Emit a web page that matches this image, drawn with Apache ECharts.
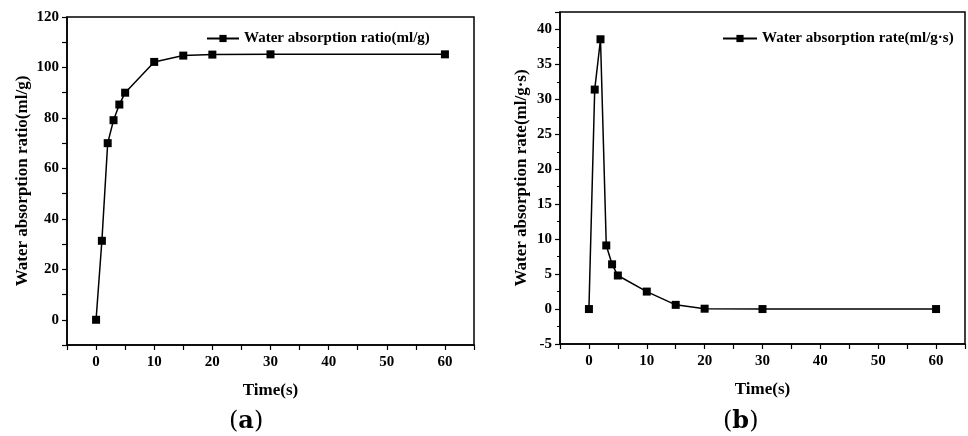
<!DOCTYPE html>
<html>
<head>
<meta charset="utf-8">
<script src="https://cdn.jsdelivr.net/npm/echarts@6/dist/echarts.min.js"></script>
<style>
html,body{margin:0;padding:0;background:#fff;}
#c{width:968px;height:436px;}
</style>
</head>
<body>
<div id="c"></div>
<script>
var timeA = [0, 1, 2, 3, 4, 5, 10, 15, 20, 30, 60];
var ratioA = [0, 31.3, 70.0, 79.1, 85.3, 90.0, 102.2, 104.7, 105.1, 105.2, 105.2];
var timeB = [0, 1, 2, 3, 4, 5, 10, 15, 20, 30, 60];
var rateB = [0, 31.4, 38.6, 9.1, 6.4, 4.8, 2.5, 0.6, 0.05, 0, 0];
var nameA = 'Water absorption ratio(ml/g)';
var nameB = 'Water absorption rate(ml/g\u00b7s)';
var xName = 'Time(s)';

var FONT = '"Liberation Serif", "Times New Roman", serif';
var chart = echarts.init(document.getElementById('c'), null, {renderer: 'canvas'});

function pairs(xs, ys) { return xs.map(function (x, i) { return [x, ys[i]]; }); }

var axisLineStyle = {show: true, onZero: false, lineStyle: {color: '#000', width: 1.5}};
var labelStyle = {color: '#000', fontFamily: FONT, fontWeight: 'bold', fontSize: 15};

function xAxis(gi) {
  return {
    type: 'value', gridIndex: gi, min: -5, max: 65, interval: 5,
    name: xName, nameLocation: 'middle', nameGap: 37,
    nameTextStyle: {color: '#000', fontFamily: FONT, fontWeight: 'bold', fontSize: 17},
    axisLine: axisLineStyle,
    axisTick: {show: true, inside: false, length: 5, lineStyle: {color: '#000', width: 1.2}},
    axisLabel: Object.assign({margin: 10, formatter: function (v) {
      return (v % 10 === 0 && v >= 0 && v <= 60) ? String(v) : '';
    }}, labelStyle),
    splitLine: {show: false}
  };
}

var option = {
  backgroundColor: '#fff',
  animation: false,
  grid: [
    {left: 67, top: 17, right: 494, bottom: 91, show: true, borderColor: '#000', borderWidth: 1.5, containLabel: false},
    {left: 560, top: 12, right: -4, bottom: 92, show: true, borderColor: '#000', borderWidth: 1.5, containLabel: false}
  ],
  legend: [
    {data: [nameA], left: 201, top: 26, itemWidth: 32, itemHeight: 9, itemGap: 6,
      textStyle: {color: '#000', fontFamily: FONT, fontWeight: 'bold', fontSize: 15}},
    {data: [nameB], left: 717, top: 26, itemWidth: 34, itemHeight: 9, itemGap: 6,
      textStyle: {color: '#000', fontFamily: FONT, fontWeight: 'bold', fontSize: 15}}
  ],
  xAxis: [xAxis(0), xAxis(1)],
  yAxis: [
    {
      type: 'value', gridIndex: 0, min: -10, max: 120, interval: 10,
      name: nameA, nameLocation: 'middle', nameGap: 36, nameRotate: 90,
      nameTextStyle: {color: '#000', fontFamily: FONT, fontWeight: 'bold', fontSize: 17},
      axisLine: axisLineStyle,
      axisTick: {show: true, length: 5, lineStyle: {color: '#000', width: 1.2}},
      axisLabel: Object.assign({margin: 8, formatter: function (v) {
        return (v % 20 === 0 && v >= 0) ? String(v) : '';
      }}, labelStyle),
      splitLine: {show: false}
    },
    {
      type: 'value', gridIndex: 1, min: -5, max: 42.5, interval: 5,
      name: nameB, nameLocation: 'middle', nameGap: 30, nameRotate: 90,
      nameTextStyle: {color: '#000', fontFamily: FONT, fontWeight: 'bold', fontSize: 17},
      axisLine: axisLineStyle,
      axisTick: {show: true, length: 5, lineStyle: {color: '#000', width: 1.2}},
      minorTick: {show: true, splitNumber: 2, length: 3, lineStyle: {color: '#000', width: 1}},
      axisLabel: Object.assign({margin: 8, showMaxLabel: false, formatter: function (v) {
        return (v % 5 === 0) ? String(v) : '';
      }}, labelStyle),
      splitLine: {show: false}
    }
  ],
  series: [
    {
      name: nameA, type: 'line', xAxisIndex: 0, yAxisIndex: 0,
      data: pairs(timeA, ratioA),
      symbol: 'rect', symbolSize: 8, showAllSymbol: true,
      lineStyle: {color: '#000', width: 1.5}, itemStyle: {color: '#000'}
    },
    {
      name: nameB, type: 'line', xAxisIndex: 1, yAxisIndex: 1,
      data: pairs(timeB, rateB),
      symbol: 'rect', symbolSize: 8, showAllSymbol: true,
      lineStyle: {color: '#000', width: 1.5}, itemStyle: {color: '#000'}
    }
  ],
  graphic: [
    {type: 'text', left: 229, top: 410, style: {
      text: '{p|(}{b|a}{p|)}',
      rich: {
        p: {fontFamily: '"DejaVu Serif", serif', fontSize: 24, fill: '#000'},
        b: {fontFamily: '"DejaVu Serif", serif', fontSize: 24, fontWeight: 'bold', fill: '#000'}
      }
    }},
    {type: 'text', left: 723, top: 410, style: {
      text: '{p|(}{b|b}{p|)}',
      rich: {
        p: {fontFamily: '"DejaVu Serif", serif', fontSize: 24, fill: '#000'},
        b: {fontFamily: '"DejaVu Serif", serif', fontSize: 24, fontWeight: 'bold', fill: '#000'}
      }
    }}
  ]
};
chart.setOption(option);
</script>
</body>
</html>
